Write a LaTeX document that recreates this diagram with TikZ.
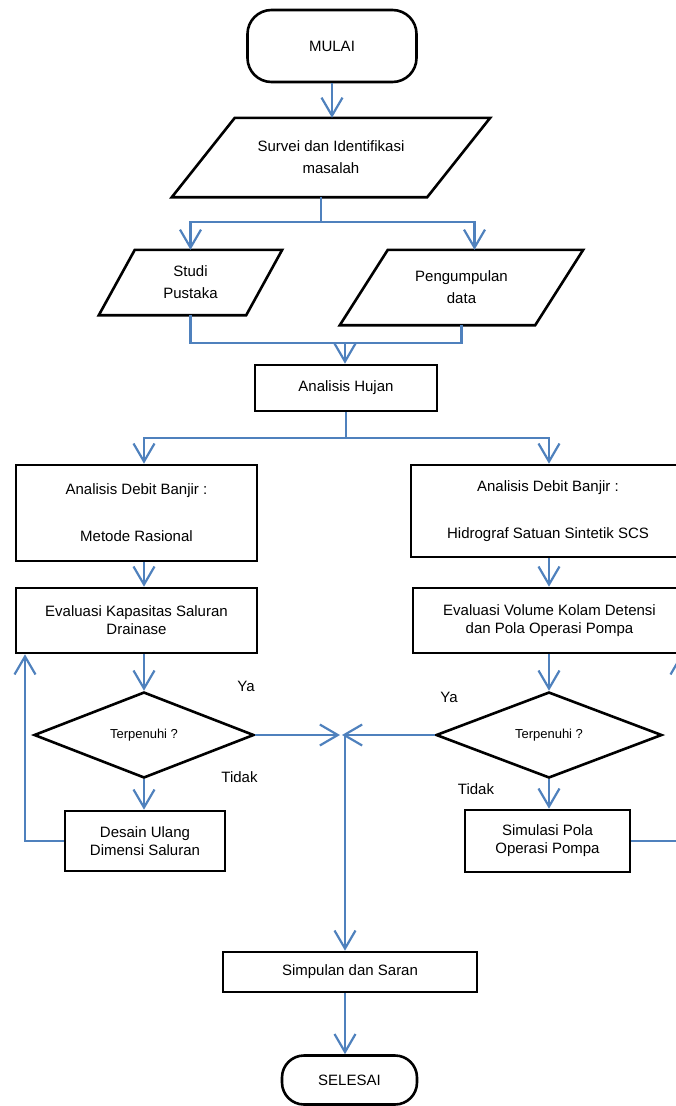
\documentclass[tikz,border=0pt]{standalone}
\usepackage{fontspec}
\setmainfont{Liberation Sans}
\usetikzlibrary{arrows.meta,shapes.geometric,calc}
\definecolor{flowblue}{RGB}{79,129,189}
\tikzset{
  outline/.style={draw=black, line width=2.6pt},
  box/.style={outline, rectangle, align=center, font=\fontsize{15}{18}\selectfont},
  term/.style={box, rounded corners=24pt},
  inout/.style={rectangle, align=center, font=\fontsize{15}{22}\selectfont},
  decide/.style={outline, diamond, inner sep=0pt, font=\fontsize{13}{15}\selectfont},
  link/.style={flowblue, line width=2.2pt},
  flow/.style={link, -{Straight Barb[length=18pt,width=21pt]}},
  lbl/.style={font=\fontsize{15}{18}\selectfont}
}
\begin{document}
\begin{tikzpicture}[x=1pt, y=-1pt]
  \useasboundingbox (0,0) rectangle (676,1106);

  % Start and input steps
  \node[term, minimum width=169pt, minimum height=72pt] (mulai) at (332,46) {MULAI};
  \node[inout, minimum width=318pt, minimum height=79pt] (survei) at (331,157.5) {Survei dan Identifikasi\\masalah};
  \node[inout, minimum width=183pt, minimum height=65pt] (studi) at (190.5,282.5) {Studi\\Pustaka};
  \node[inout, minimum width=243pt, minimum height=75pt] (kumpul) at (461.5,287.5) {Pengumpulan\\data};
  \foreach \n/\s in {survei/63, studi/36, kumpul/48}
    \draw[outline] ($(\n.north west)+(\s,0)$) -- (\n.north east) -- ($(\n.south east)+(-\s,0)$) -- (\n.south west) -- cycle;

  \node[box, minimum width=182pt, minimum height=46pt] (hujan) at (346,388) {Analisis Hujan};

  % Left branch
  \node[box, minimum width=241pt, minimum height=96pt] (metode) at (136.5,513) {Analisis Debit Banjir :\\[29pt]Metode Rasional};
  \node[box, minimum width=241pt, minimum height=65pt] (kapasitas) at (136.5,620.5) {Evaluasi Kapasitas Saluran\\Drainase};
  \node[decide, minimum width=220pt, minimum height=86pt] (cekL) at (144,735) {Terpenuhi ?};
  \node[box, minimum width=160pt, minimum height=60pt] (desain) at (145,841) {Desain Ulang\\Dimensi Saluran};

  % Right branch
  \node[box, minimum width=274pt, minimum height=92pt] (hidro) at (548,511) {Analisis Debit Banjir :\\[29pt]Hidrograf Satuan Sintetik SCS};
  \node[box, minimum width=273pt, minimum height=65pt] (volume) at (549.5,620.5) {Evaluasi Volume Kolam Detensi\\dan Pola Operasi Pompa};
  \node[decide, minimum width=226pt, minimum height=86pt] (cekR) at (549,735) {Terpenuhi ?};
  \node[box, minimum width=165pt, minimum height=62pt] (simulasi) at (547.5,841) {Simulasi Pola\\Operasi Pompa};

  % End
  \node[box, minimum width=254pt, minimum height=40pt] (simpulan) at (350,972) {Simpulan dan Saran};
  \node[term, minimum width=135pt, minimum height=49pt, rounded corners=22pt] (selesai) at (349.5,1080) {SELESAI};

  % Labels
  \node[lbl] (yaL) at (246,686) {Ya};
  \node[lbl] (tidakL) at (239.5,777) {Tidak};
  \node[lbl] (yaR) at (449,697) {Ya};
  \node[lbl] (tidakR) at (476,789) {Tidak};

  % Junctions
  \coordinate (j1) at (321,222);
  \coordinate (j2) at (345,343);
  \coordinate (j3) at (346,438);
  \coordinate (colL) at (144,0);
  \coordinate (colR) at (549,0);
  \coordinate (backL) at (25,0);
  \coordinate (backR) at (681,0);
  \coordinate (meet) at (345,735);

  % Connectors
  \draw[flow] (mulai.south) -- (mulai.south |- survei.north);
  \draw[link] (survei.south -| j1) -- (j1);
  \draw[flow] (j1) -| (studi.north);
  \draw[flow] (j1) -| ([xshift=13pt]kumpul.north);
  \draw[link] (studi.south) |- (j2) -| (kumpul.south);
  \draw[flow] (j2) -- (j2 |- hujan.north);
  \draw[link] (hujan.south -| j3) -- (j3);
  \draw[flow] (j3) -| (colL |- metode.north);
  \draw[flow] (j3) -| (colR |- hidro.north);

  \draw[flow] (colL |- metode.south) -- (colL |- kapasitas.north);
  \draw[flow] (colL |- kapasitas.south) -- (cekL.north);
  \draw[flow] (cekL.south) -- (colL |- desain.north);
  \draw[flow] (desain.west) -| (backL |- kapasitas.south);

  \draw[flow] (colR |- hidro.south) -- (colR |- volume.north);
  \draw[flow] (colR |- volume.south) -- (cekR.north);
  \draw[flow] (cekR.south) -- (colR |- simulasi.north);
  \draw[flow] (simulasi.east) -| (backR |- volume.south);

  \draw[flow, shorten >=5pt] (cekL.east) -- (meet);
  \draw[flow, shorten >=-3pt] (cekR.west) -- (meet);
  \draw[flow] (meet) -- (meet |- simpulan.north);
  \draw[flow] (simpulan.south -| meet) -- (meet |- selesai.north);
\end{tikzpicture}
\end{document}
